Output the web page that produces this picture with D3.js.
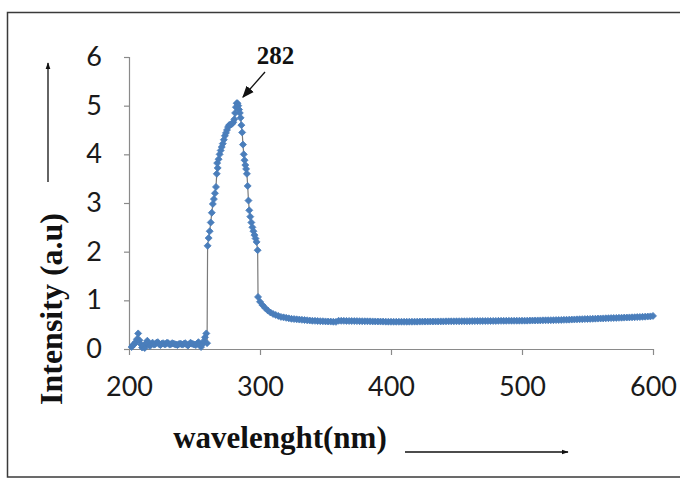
<!DOCTYPE html>
<html>
<head>
<meta charset="utf-8">
<script src="https://cdn.jsdelivr.net/npm/d3@7"></script>
<style>
  body { margin: 0; background: #fff; }
  svg { display: block; }
</style>
</head>
<body>
<div id="canvas"></div>
<script>
// readings taken off the spectrum (nm, a.u.)
// baseline noise + absorption band
var wavelength = [
  202, 203, 204, 205, 206, 207, 208, 209, 210, 211, 212, 213, 214, 215, 216, 217, 218, 219, 220,
  221, 222, 223, 224, 225, 226, 227, 228, 229, 230, 231, 232, 233, 234, 235, 236, 237, 238, 239, 240,
  241, 242, 243, 244, 245, 246, 247, 248, 249, 250, 251, 252, 253, 254, 255, 256, 257, 258, 259, 259.6,
  260, 260.8, 261.6, 262.4, 263.2, 264, 264.8, 265.6, 266.4, 267, 267.3, 267.7, 268.4, 269.2, 270,
  270.8, 271.6, 272.4, 273.2, 274, 274.8, 275.6, 276.4, 277.2, 278, 278.8, 279.6, 280.4, 281, 281.6,
  282.2, 282.8, 283.4, 284, 284.6, 285.2, 285.8, 286.4, 287, 287.6, 288.2, 288.8, 289.4, 290, 290.6,
  291.2, 291.8, 292.6, 293.4, 294.2, 295, 295.8, 296.6, 297.4, 298.2, 298.5
];
var intensity = [
  0.04, 0.08, 0.1, 0.14, 0.2, 0.32, 0.18, 0.1, 0.03, 0.06, 0.02, 0.12, 0.17, 0.1, 0.06, 0.1, 0.13, 0.09, 0.1,
  0.13, 0.14, 0.1, 0.08, 0.11, 0.12, 0.1, 0.1, 0.13, 0.12, 0.09, 0.1, 0.12, 0.11, 0.1, 0.09, 0.08, 0.1, 0.11, 0.1,
  0.09, 0.11, 0.12, 0.09, 0.07, 0.1, 0.13, 0.11, 0.1, 0.09, 0.08, 0.11, 0.14, 0.09, 0.04, 0.1, 0.16, 0.24, 0.32, 0.12,
  2.12, 2.28, 2.42, 2.6, 2.8, 2.98, 3.08, 3.2, 3.33, 3.6, 3.82, 3.72, 3.9, 4.0, 4.08,
  4.15, 4.22, 4.3, 4.38, 4.44, 4.5, 4.56, 4.6, 4.61, 4.62, 4.63, 4.66, 4.72, 4.85, 4.97,
  5.05, 5.05, 5.0, 4.92, 4.85, 4.75, 4.6, 4.45, 4.2, 4.0, 3.88, 3.78, 3.7, 3.6, 3.35,
  3.05, 2.85, 2.72, 2.6, 2.5, 2.42, 2.34, 2.27, 2.2, 2.03, 1.07
];
// long flat tail, read every 2 nm from 300 to 600
var tailStart = 300, tailStep = 2;
var tailIntensity = [
  0.97, 0.9, 0.84, 0.79, 0.75, 0.72, 0.70, 0.68, 0.66, 0.65, 0.64, 0.63, 0.62, 0.615, 0.61,
  0.605, 0.6, 0.595, 0.59, 0.585, 0.58, 0.578, 0.575, 0.572, 0.57, 0.567, 0.565, 0.563, 0.56, 0.558,
  0.58, 0.579, 0.578, 0.577, 0.576, 0.575, 0.574, 0.573, 0.572, 0.571, 0.57, 0.569, 0.568, 0.567, 0.566,
  0.565, 0.564, 0.563, 0.562, 0.561,
  0.56, 0.56, 0.56, 0.56, 0.56, 0.56, 0.56, 0.561, 0.561, 0.562, 0.562, 0.563, 0.563, 0.564, 0.564,
  0.565, 0.565, 0.566, 0.566, 0.567, 0.567, 0.568, 0.568, 0.569, 0.569,
  0.57, 0.57, 0.571, 0.571, 0.572, 0.572, 0.573, 0.573, 0.574, 0.574, 0.575, 0.575, 0.576, 0.576, 0.577,
  0.577, 0.578, 0.578, 0.579, 0.579, 0.58, 0.58, 0.58, 0.581, 0.581,
  0.582, 0.582, 0.583, 0.584, 0.585, 0.586, 0.587, 0.588, 0.589, 0.59, 0.591, 0.592, 0.593, 0.594, 0.595,
  0.597, 0.599, 0.601, 0.603, 0.605, 0.607, 0.609, 0.611, 0.613, 0.615,
  0.617, 0.619, 0.621, 0.623, 0.625, 0.627, 0.629, 0.631, 0.633, 0.635, 0.637, 0.639, 0.641, 0.643, 0.645,
  0.647, 0.649, 0.651, 0.653, 0.655, 0.658, 0.661, 0.664, 0.667, 0.67, 0.68
];
var xTicks = [200, 300, 400, 500, 600];
var yTicks = [0, 1, 2, 3, 4, 5, 6];
var peakLabel = "282";

var W = 680, H = 479;
var svg = d3.select('#canvas').append('svg').attr('width', W).attr('height', H);

//outer frame
svg.append('rect').attr('x', 7.5).attr('y', 12.5).attr('width', 680).attr('height', 464.5)
  .attr('fill', 'none').attr('stroke', '#3a3a3a').attr('stroke-width', 1.5);

var defs = svg.append('defs');
defs.append('marker').attr('id', 'ah').attr('viewBox', '0 0 10 10').attr('refX', 9).attr('refY', 5)
  .attr('markerWidth', 7).attr('markerHeight', 7).attr('orient', 'auto')
  .attr('markerUnits', 'userSpaceOnUse')
  .append('path').attr('d', 'M0,1.5 L10,5 L0,8.5 Z').attr('fill', '#111');
defs.append('marker').attr('id', 'ah2').attr('viewBox', '0 0 10 10').attr('refX', 9).attr('refY', 5)
  .attr('markerWidth', 12).attr('markerHeight', 12).attr('orient', 'auto')
  .attr('markerUnits', 'userSpaceOnUse')
  .append('path').attr('d', 'M0,1 L10,5 L0,9 Z').attr('fill', '#111');

var x = d3.scaleLinear().domain([200, 600]).range([129, 653]);
var y = d3.scaleLinear().domain([0, 6]).range([349, 57]);

//axes
var axisColor = '#8a8a8a';
var xAxis = svg.append('g').attr('transform', 'translate(0,349)')
  .call(d3.axisBottom(x).tickValues(xTicks).tickSize(6).tickPadding(22).tickFormat(d3.format('d')));
var yAxis = svg.append('g').attr('transform', 'translate(129,0)')
  .call(d3.axisLeft(y).tickValues(yTicks).tickSize(5).tickPadding(22).tickFormat(d3.format('d')));
[xAxis, yAxis].forEach(function(a){
  a.select('.domain').attr('stroke', axisColor).attr('stroke-width', 1.2);
  a.selectAll('.tick line').attr('stroke', axisColor).attr('stroke-width', 1.2);
  a.selectAll('.tick text').attr('fill', '#1a1a1a')
    .style('font-family', 'Lato, "Open Sans", sans-serif').style('font-size', '27px');
});
xAxis.select('.domain').attr('d', 'M129,0.5H653');
yAxis.select('.domain').attr('d', 'M0.5,57V349');

//series: thin grey connecting line + blue diamond markers
var pts = wavelength.map(function(w, i){ return [w, intensity[i]]; })
  .concat(tailIntensity.map(function(v, i){ return [tailStart + i * tailStep, v]; }));
svg.append('path').datum(pts)
  .attr('d', d3.line().x(function(d){ return x(d[0]); }).y(function(d){ return y(d[1]); }))
  .attr('fill', 'none').attr('stroke', '#7a7a7a').attr('stroke-width', 1.2);
var r = 3.5;
svg.append('g').selectAll('path').data(pts).join('path')
  .attr('transform', function(d){ return 'translate(' + x(d[0]) + ',' + y(d[1]) + ')'; })
  .attr('d', 'M0,' + (-r) + 'L' + r + ',0L0,' + r + 'L' + (-r) + ',0Z')
  .attr('fill', '#4a7ebb').attr('stroke', '#4a7ebb').attr('stroke-width', 0.8);

//peak annotation
svg.append('text').attr('x', 275.5).attr('y', 64).attr('text-anchor', 'middle')
  .style('font-family', '"Liberation Serif", "Times New Roman", serif').style('font-weight', 'bold')
  .style('font-size', '25px').attr('fill', '#111').text(peakLabel);
svg.append('line').attr('x1', 265).attr('y1', 72).attr('x2', 243).attr('y2', 97)
  .attr('stroke', '#111').attr('stroke-width', 1.3).attr('marker-end', 'url(#ah2)');

//axis titles
svg.append('text').attr('x', 280).attr('y', 448).attr('text-anchor', 'middle')
  .style('font-family', '"Liberation Serif", "Times New Roman", serif').style('font-weight', 'bold')
  .style('font-size', '31px').attr('fill', '#111').text('wavelenght(nm)');
svg.append('text').attr('transform', 'translate(62,309) rotate(-90)').attr('text-anchor', 'middle')
  .style('font-family', '"Liberation Serif", "Times New Roman", serif').style('font-weight', 'bold')
  .style('font-size', '32px').attr('fill', '#111').text('Intensity (a.u)');

//direction arrows
svg.append('line').attr('x1', 405).attr('y1', 452).attr('x2', 568).attr('y2', 452)
  .attr('stroke', '#111').attr('stroke-width', 1.3).attr('marker-end', 'url(#ah)');
svg.append('line').attr('x1', 48).attr('y1', 182).attr('x2', 48).attr('y2', 63)
  .attr('stroke', '#111').attr('stroke-width', 1.3).attr('marker-end', 'url(#ah)');
</script>
</body>
</html>
